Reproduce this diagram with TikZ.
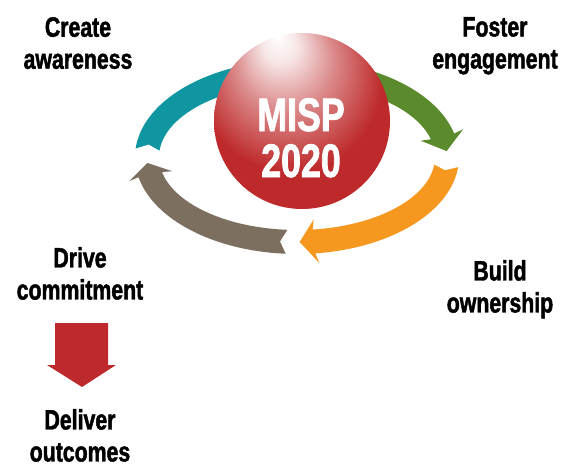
\documentclass[tikz,border=0pt]{standalone}
\usepackage{fontspec}
\newfontfamily\condfont{Liberation Sans Bold}[FakeStretch=0.76, FakeBold=1.6]

\definecolor{mispred}{HTML}{BE2A2B}
\definecolor{awareteal}{HTML}{0F96A1}
\definecolor{fostergreen}{HTML}{5B8A2C}
\definecolor{ownorange}{HTML}{F6971F}
\definecolor{drivegray}{HTML}{7C6F5F}

% light spot near the top of the sphere
\pgfdeclareradialshading{spherelight}{\pgfpoint{-7bp}{24bp}}{color(0bp)=(white); color(5bp)=(white!88!mispred);
    color(14bp)=(mispred!55!white); color(26bp)=(mispred); color(50bp)=(mispred)}

% curved arrow on the ring: colour, tail, head base, tip, notch (angles)
\newcommand{\ringarrow}[5]{%
  \fill[#1] ({297+162*cos(#2)},{157+97*sin(#2)})
    -- plot[domain=#2:#3, samples=40] ({297+162*cos(\x)},{157+97*sin(\x)})
    -- ({297+172*cos(#3-1)},{157+107*sin(#3-1)})
    -- ({297+150*cos(#4)},{157+85*sin(#4)})
    -- ({297+128*cos(#3-1)},{157+63*sin(#3-1)})
    -- plot[domain=#3:#2, samples=40] ({297+138*cos(\x)},{157+73*sin(\x)})
    -- ({297+150*cos(#5)},{157+85*sin(#5)}) -- cycle;}

\begin{document}
\begin{tikzpicture}[x=1pt, y=-1pt, node distance={162pt},
    stage/.style = {font={\condfont\fontsize{28}{32}\selectfont}, align=center, inner sep=0pt, anchor=north},
    core/.style = {font={\condfont\fontsize{47}{46}\selectfont}, text=white, align=center, inner sep=0pt, anchor=north}]
    \useasboundingbox (0,0) rectangle (568,468);

    \ringarrow{awareteal}{185}{281}{288}{188.5}
    \ringarrow{fostergreen}{283}{346}{356}{286}
    \ringarrow{ownorange}{6}{83.5}{89}{9}
    \ringarrow{drivegray}{94}{168}{176}{96.5}

    \node[circle, shade, shading=spherelight, minimum size=176pt, inner sep=0pt] (sphere) at (302,121) {};
    \node[core] (misp) at (301,98) {MISP\\2020};

    \node[stage] (create) at (78,17) {Create\\awareness};
    \node[stage] (foster) at (495,17) {Foster\\engagement};
    \node[stage] (build) at (500,260) {Build\\ownership};
    \node[stage] (drive) at (80,247) {Drive\\commitment};
    \node[stage] (deliver) [below of=drive] {Deliver\\outcomes};

    \coordinate (arrowtop) at (81.5,323);
    \fill[mispred] (arrowtop) ++(-26.5,0) -- ++(53,0) -- ++(0,42) -- ++(8,0)
        -- (82,387) -- (47,365) -- (55,365) -- cycle;
\end{tikzpicture}
\end{document}
